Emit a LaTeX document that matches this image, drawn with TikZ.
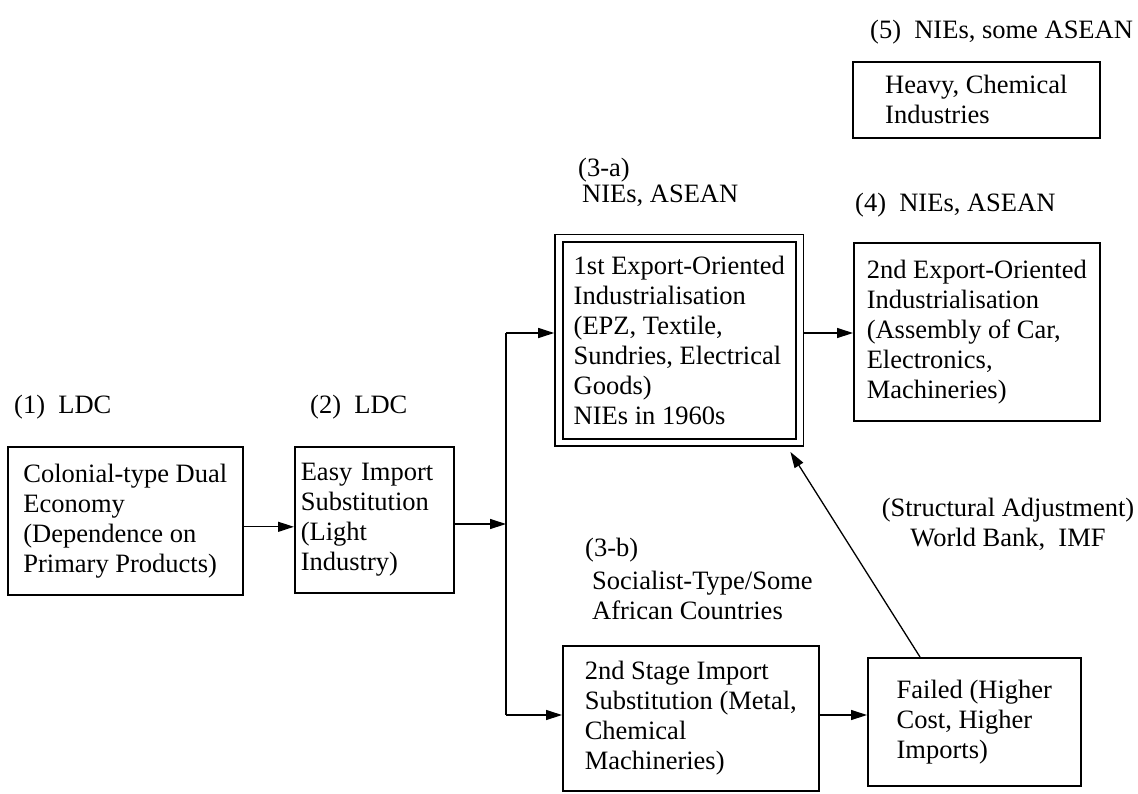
\documentclass[tikz,border=0pt]{standalone}
\usepackage{fontspec}
\setmainfont{Liberation Serif}
\usetikzlibrary{arrows.meta,fit}
\newcommand\fs{\fontsize{26.5}{30}\selectfont}
\begin{document}
\begin{tikzpicture}[x=1pt,y=-1pt,
  box/.style={draw,line width=1.6pt,align=left,inner sep=0pt,anchor=north west,font=\fs},
  lbl/.style={anchor=west,inner sep=0pt,font=\fs,align=left},
  arr/.style={line width=1.3pt,-{Triangle[length=16pt,width=10pt]}},
  conn/.style={line width=1.3pt}]
\useasboundingbox (0,0) rectangle (1138,793);

% boxes
\node[box,minimum width=247pt,minimum height=76pt] (b5) at (852,61) {Heavy, Chemical\\Industries};
\node[box,minimum width=233pt,minimum height=197pt] (b3a) at (562,241)
  {1st Export-Oriented\\Industrialisation\\(EPZ, Textile,\\Sundries, Electrical\\Goods)\\NIEs in 1960s};
\node[draw,line width=1.6pt,fit=(b3a),inner xsep=7pt,inner ysep=6.5pt] (b3ao) {};
\node[box,minimum width=246pt,minimum height=178pt] (b4) at (853,242)
  {2nd Export-Oriented\\Industrialisation\\(Assembly of Car,\\Electronics,\\Machineries)};
\node[box,minimum width=235pt,minimum height=148pt] (b1) at (7,446)
  {Colonial-type Dual\\Economy\\(Dependence on\\Primary Products)};
\node[box,minimum width=159pt,minimum height=146pt,text width=147pt,inner xsep=6pt] (b2) at (294,446)
  {Easy Import\\Substitution\\(Light\\Industry)};
\node[box,minimum width=256pt,minimum height=145pt] (b3b) at (562,645)
  {2nd Stage Import\\Substitution (Metal,\\Chemical\\Machineries)};
\node[box,minimum width=213pt,minimum height=128pt] (bf) at (867,657)
  {Failed (Higher\\Cost, Higher\\Imports)};

% labels
\node[lbl] (l5) at (870,32) {(5)~ NIEs, some ASEAN};
\node[lbl] (l3a) at (578,170) {(3-a)};
\node[lbl] (l3a2) at (582,196) {NIEs, ASEAN};
\node[lbl] (l4) at (855,205) {(4)~ NIEs, ASEAN};
\node[lbl] (l1) at (14,407) {(1)~ LDC};
\node[lbl] (l2) at (310,407) {(2)~ LDC};
\node[font=\fs,align=center,inner sep=0pt] (lsa) at (1008,524) {(Structural Adjustment)\\World Bank,~ IMF};
\node[lbl] (l3b) at (585,550) {(3-b)};
\node[lbl] (l3b2) at (592,595) {Socialist-Type/Some\\African Countries};

% connectors
\coordinate (jt) at (506,333);
\coordinate (jm) at (506,524);
\coordinate (jb) at (506,715);
\draw[arr] ([yshift=-6pt]b1.east) -- ([yshift=-6pt]b1.east -| b2.west);
\draw[arr] (b2.east |- jm) -- (jm);
\draw[conn] (jt) -- (jb);
\draw[arr] (jt) -- (jt -| b3ao.west);
\draw[arr] (jb) -- (jb -| b3b.west);
\draw[arr] (b3ao.east |- jt) -- (b4.west |- jt);
\draw[arr] (b3b.east |- jb) -- (bf.west |- jb);
\draw[arr] ([xshift=53pt]bf.north west) -- ([xshift=-14pt,yshift=-5pt]b3ao.south east);
\end{tikzpicture}
\end{document}
